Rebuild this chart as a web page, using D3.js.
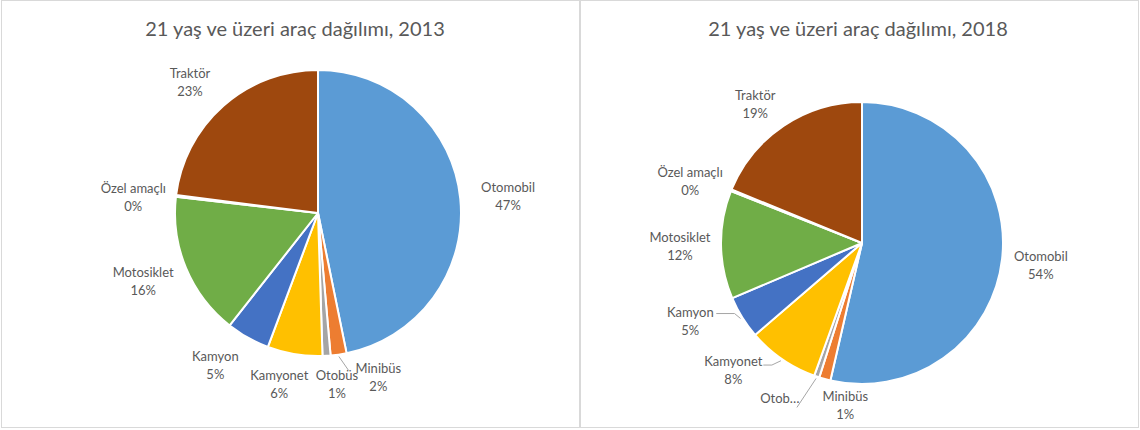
<!DOCTYPE html>
<html>
<head>
<meta charset="utf-8">
<script src="https://cdn.jsdelivr.net/npm/d3@7"></script>
<style>
  body { margin: 0; background: #fff; }
  svg { display: block; font-family: Lato, "Noto Sans", sans-serif; }
</style>
</head>
<body>
<div id="chart"></div>
<script>
// data
var categories = ["Otomobil", "Minibüs", "Otobüs", "Kamyonet", "Kamyon", "Motosiklet", "Özel amaçlı", "Traktör"];
var values2013 = [46.8, 1.8, 0.9, 6.2, 4.9, 16.2, 0.2, 23.0];
var values2018 = [53.6, 1.3, 0.6, 8.2, 4.9, 12.4, 0.2, 18.8];
var titles = ["21 yaş ve üzeri araç dağılımı, 2013", "21 yaş ve üzeri araç dağılımı, 2018"];
var colors = ["#5B9BD5", "#ED7D31", "#A5A5A5", "#FFC000", "#4472C4", "#70AD47", "#264478", "#9E480E"];

// layout of the two panels
var W = 1140, H = 430;
var panels = [
  { x: 1, w: 578, cx: 318, cy: 213, r: 143, titleX: 295, values: values2013, title: titles[0],
    // label nudges from the default outside position (by category)
    nudge: [[8, 1], [34, -17], [8, -12], [-9, -10], [-13, -8], [-6, -3], [-3, 6], [-7, 6]],
    leaders: { "Minibüs": [-30, -7] },
    short: {} },
  { x: 580, w: 558, cx: 862, cy: 243, r: 141, titleX: 858, values: values2018, title: titles[1],
    nudge: [[-1, 2], [31, -13], [-24, -16], [-26, -22], [-18, -18], [-1, 1], [-4, 6], [-6, 11]],
    leaders: { "Kamyon": [26, -7], "Kamyonet": [30, -5], "Otobüs": [17, 9] },
    short: { "Otobüs": "Otob…" } }
];

var svg = d3.select("#chart").append("svg")
  .attr("width", W)
  .attr("height", H);

var pie = d3.pie().sort(null).value(function(d) { return d.value; });

panels.forEach(function(p) {
  var g = svg.append("g");

  g.append("rect")
    .attr("x", p.x + 0.5).attr("y", 0.5)
    .attr("width", p.w).attr("height", H - 3)
    .attr("fill", "#fff")
    .attr("stroke", "#d9d9d9");

  g.append("text")
    .attr("x", p.titleX).attr("y", 36)
    .attr("text-anchor", "middle")
    .attr("fill", "#595959")
    .style("font-size", "20px")
    .text(p.title);

  var rows = categories.map(function(c, i) { return { name: c, value: p.values[i], color: colors[i] }; });
  var arcs = pie(rows);
  var arc = d3.arc().innerRadius(0).outerRadius(p.r);

  var pg = g.append("g").attr("transform", "translate(" + p.cx + "," + p.cy + ")");

  pg.selectAll("path.slice")
    .data(arcs)
    .enter().append("path")
      .attr("class", "slice")
      .attr("d", arc)
      .attr("fill", function(d) { return d.data.color; })
      .attr("stroke", "#fff")
      .attr("stroke-width", 2)
      .attr("stroke-linejoin", "round");

  function polar(a, rr) { return [rr * Math.sin(a), -rr * Math.cos(a)]; }

  arcs.forEach(function(d, i) {
    var mid = (d.startAngle + d.endAngle) / 2;
    var pos = polar(mid, p.r + 40);
    var lx = pos[0] + p.nudge[i][0], ly = pos[1] + p.nudge[i][1];
    var pct = Math.round(d.data.value) + "%";
    var short = p.short[d.data.name];

    var lead = p.leaders[d.data.name];
    if (lead) {
      var s = polar(mid, p.r + 2);
      var ex = lx + lead[0], ey = ly + lead[1];
      var path = "M" + s[0] + "," + s[1];
      if (d.data.name === "Kamyon" || d.data.name === "Kamyonet") {
        var elbowX = s[0] - (d.data.name === "Kamyon" ? 6 : 9);
        path += "L" + elbowX + "," + ey;
      }
      path += "L" + ex + "," + ey;
      pg.append("path")
        .attr("d", path)
        .attr("fill", "none")
        .attr("stroke", "#a6a6a6")
        .attr("stroke-width", 1);
    }

    var t = pg.append("text")
      .attr("text-anchor", "middle")
      .attr("fill", "#595959")
      .style("font-size", "13px");
    if (short) {
      t.attr("x", lx).attr("y", ly + 4.5).text(short);
    } else {
      t.append("tspan").attr("x", lx).attr("y", ly - 4).text(d.data.name);
      t.append("tspan").attr("x", lx).attr("y", ly + 14).text(pct);
    }
  });
});
</script>
</body>
</html>
